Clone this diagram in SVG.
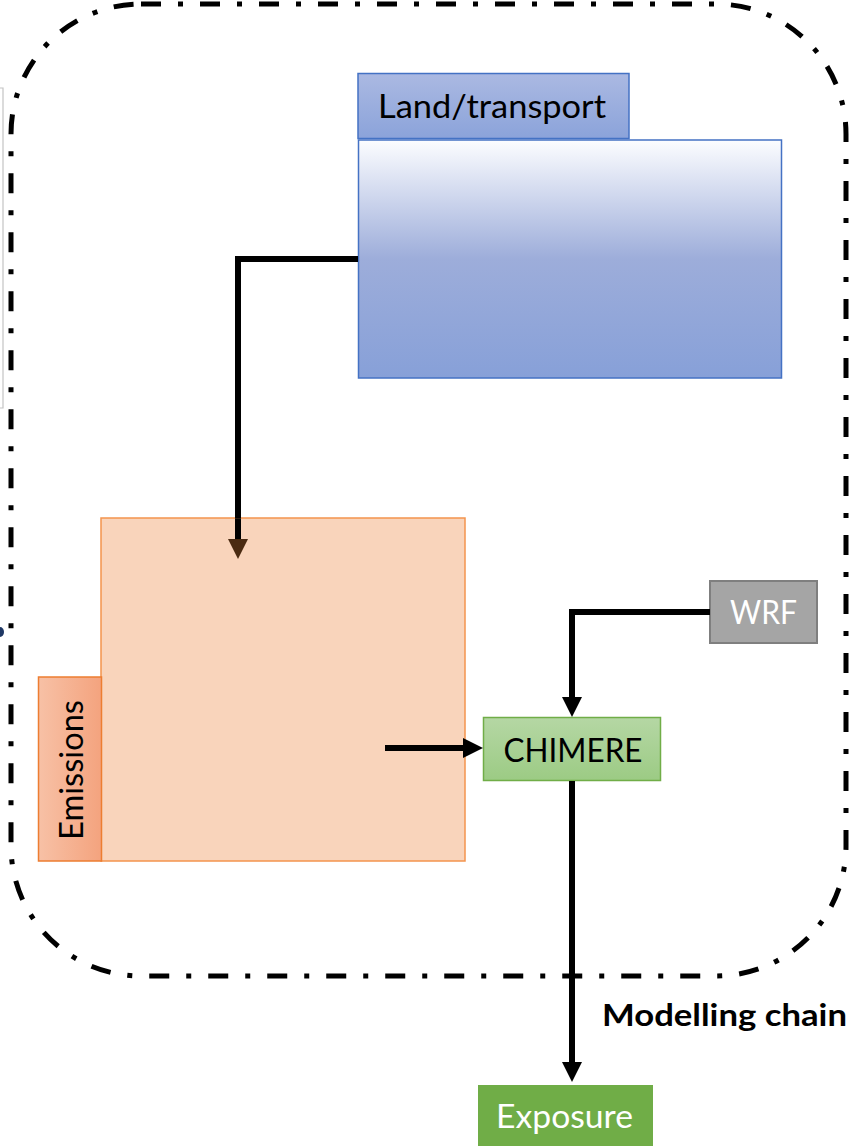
<svg xmlns="http://www.w3.org/2000/svg" width="859" height="1148" viewBox="0 0 859 1148">
<defs>
<linearGradient id="gTab" x1="0" y1="0" x2="0" y2="1"><stop offset="0" stop-color="#abb9e2"/><stop offset="1" stop-color="#8ba3da"/></linearGradient>
<linearGradient id="gLand" x1="0" y1="0" x2="0" y2="1"><stop offset="0" stop-color="#fcfdff"/><stop offset="0.5" stop-color="#9dadda"/><stop offset="1" stop-color="#87a0d8"/></linearGradient>
<linearGradient id="gEmTab" x1="0" y1="0" x2="1" y2="0"><stop offset="0" stop-color="#f7c1a6"/><stop offset="1" stop-color="#f4a37e"/></linearGradient>
<linearGradient id="gChim" x1="0" y1="0" x2="0" y2="1"><stop offset="0" stop-color="#b5d7a4"/><stop offset="1" stop-color="#9ccb84"/></linearGradient>
<marker id="arr" markerUnits="userSpaceOnUse" viewBox="0 0 20 20" markerWidth="20" markerHeight="20" refX="10" refY="10" orient="auto"><path d="M0,0 L20,10 L0,20 z" fill="#000"/></marker>
<marker id="arrBrown" markerUnits="userSpaceOnUse" viewBox="0 0 20 20" markerWidth="20" markerHeight="20" refX="10" refY="10" orient="auto"><path d="M0,0 L20,10 L0,20 z" fill="#4b2b12"/></marker>
</defs>
<style>
.lbl{font-family:Lato,"Open Sans","Liberation Sans",sans-serif;font-size:32px;text-anchor:middle}
.conn{fill:none;stroke:#000;stroke-width:6}
</style>
<rect width="859" height="1148" fill="#fff"/>
<path d="M0,88 H3 V408 H0" fill="none" stroke="#c4c4c4" stroke-width="1.2"/>
<ellipse cx="0" cy="632" rx="4" ry="5" fill="#1f3864"/>
<g id="boundary">
<rect x="11" y="4" width="835" height="972" rx="130" ry="130" fill="none" stroke="#000" stroke-width="5" stroke-dasharray="20 17 5 17"/>
</g>
<g id="land">
<rect x="358" y="73.5" width="271" height="65" fill="url(#gTab)" stroke="#4472c4" stroke-width="1.5"/>
<rect x="358.5" y="140" width="423" height="238" fill="url(#gLand)" stroke="#4472c4" stroke-width="1.5"/>
<text class="lbl" x="492" y="118" textLength="228" lengthAdjust="spacingAndGlyphs">Land/transport</text>
</g>
<g id="emissions">
<rect x="101" y="518" width="364" height="343" fill="#ed7d31" fill-opacity="0.33" stroke="#f3944e" stroke-width="1.5"/>
<rect x="38.5" y="677" width="63" height="184" fill="url(#gEmTab)" stroke="#ed7d31" stroke-width="1.5"/>
<text class="lbl" transform="translate(83,770) rotate(-90)" x="0" y="0" font-size="33" textLength="140" lengthAdjust="spacingAndGlyphs">Emissions</text>
</g>
<g id="wrf">
<rect x="710" y="581" width="107" height="62" fill="#a5a5a5" stroke="#7f7f7f" stroke-width="2"/>
<text class="lbl" x="763.5" y="624" fill="#fff" textLength="67" lengthAdjust="spacingAndGlyphs">WRF</text>
</g>
<g id="chimere">
<rect x="483.5" y="717.5" width="177" height="63" fill="url(#gChim)" stroke="#70ad47" stroke-width="1.5"/>
<text class="lbl" x="573" y="762" textLength="139" lengthAdjust="spacingAndGlyphs">CHIMERE</text>
</g>
<g id="exposure">
<rect x="478" y="1085" width="175" height="61" fill="#70ad47"/>
<text class="lbl" x="564.5" y="1128" fill="#fff" font-size="34" textLength="137" lengthAdjust="spacingAndGlyphs">Exposure</text>
</g>
<g id="connectors">
<path class="conn" d="M358,259 H238 V518.75"/>
<path class="conn" d="M238,518.75 V549" stroke="#4b2b12" marker-end="url(#arrBrown)"/>
<path class="conn" d="M385,748 H473" marker-end="url(#arr)"/>
<path class="conn" d="M710,612 H572 V707" marker-end="url(#arr)"/>
<path class="conn" d="M572,781 V1072" marker-end="url(#arr)"/>
</g>
<text x="724.5" y="1026" font-family="Lato,'Open Sans','Liberation Sans',sans-serif" font-size="30" font-weight="bold" text-anchor="middle" textLength="245" lengthAdjust="spacingAndGlyphs">Modelling chain</text>
</svg>
